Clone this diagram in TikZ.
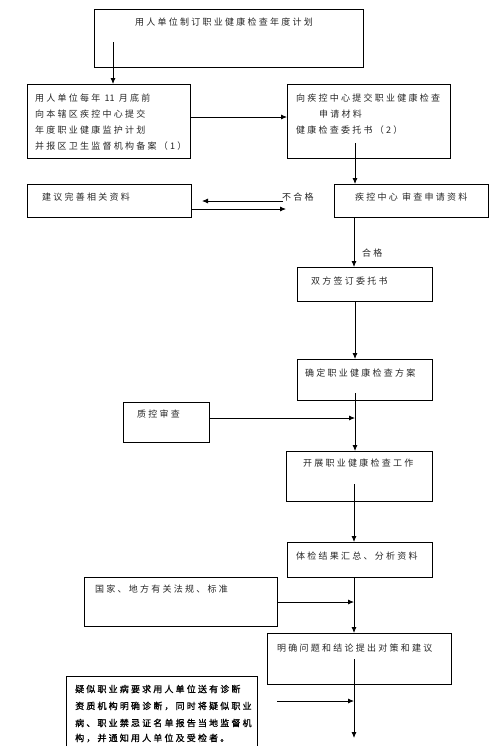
\documentclass[tikz,border=0pt]{standalone}
\usepackage{fontspec}
\usetikzlibrary{arrows.meta}
\newfontfamily\cjk[LetterSpace=25]{Noto Sans CJK SC}
\newfontfamily\cjkb[LetterSpace=24,FakeBold=1]{Noto Sans CJK SC}
\begin{document}
\begin{tikzpicture}[x=1pt,y=-1pt,
  box/.style={draw=black, line width=0.8pt, anchor=north west, inner sep=0pt},
  txt/.style={anchor=west, inner sep=0pt, font=\cjk\fontsize{9}{11}\selectfont, text=black!85},
  btxt/.style={txt, font=\cjkb\fontsize{9}{11}\selectfont, text=black},
  conn/.style={draw=black, line width=0.8pt},
  arr/.style={conn, -{Latex[length=6pt,width=5pt]}}]
\useasboundingbox (0,0) rectangle (490,755);
% boxes
\node[box, minimum width=269pt, minimum height=58pt] (b1) at (94,9) {};
\node[box, minimum width=163pt, minimum height=74pt] (b2) at (27,84) {};
\node[box, minimum width=163pt, minimum height=74pt] (b3) at (287,84) {};
\node[box, minimum width=164pt, minimum height=33pt] (b4) at (27,184) {};
\node[box, minimum width=154pt, minimum height=33pt] (b5) at (334,184) {};
\node[box, minimum width=135pt, minimum height=34pt] (b7) at (297,267) {};
\node[box, minimum width=135pt, minimum height=41pt] (b8) at (297,359) {};
\node[box, minimum width=86pt, minimum height=40pt] (b9) at (123,402) {};
\node[box, minimum width=146pt, minimum height=50pt] (b10) at (286,451) {};
\node[box, minimum width=145pt, minimum height=35pt] (b11) at (287,542) {};
\node[box, minimum width=193pt, minimum height=49pt] (b12) at (84,577) {};
\node[box, minimum width=184pt, minimum height=51pt] (b13) at (267,633) {};
\coordinate (b14bl) at (66,746);
\coordinate (b14tl) at (66,676);
\coordinate (b14tr) at (257,676);
\coordinate (b14br) at (257,746);
\draw[conn] (b14bl) -- (b14tl) -- (b14tr) -- (b14br);
% texts
\node[txt] (t1) at (135,22) {用人单位制订职业健康检查年度计划};
\node[txt] (t2a) at (35,98) {用人单位每年 {\addfontfeature{LetterSpace=0}11} 月底前};
\node[txt] (t2b) at (35,114) {向本辖区疾控中心提交};
\node[txt] (t2c) at (35,130) {年度职业健康监护计划};
\node[txt] (t2d) at (35,146) {并报区卫生监督机构备案（1）};
\node[txt] (t3a) at (296,98) {向疾控中心提交职业健康检查};
\node[txt] (t3b) at (319,114) {申请材料};
\node[txt] (t3c) at (296,130) {健康检查委托书（2）};
\node[txt] (t4) at (42,197) {建议完善相关资料};
\node[txt] (t5) at (355,197) {疾控中心 审查申请资料};
\node[txt] (lbad) at (282,197) {不合格};
\node[txt] (lok) at (362,253) {合格};
\node[txt] (t7) at (311,281) {双方签订委托书};
\node[txt] (t8) at (305,373) {确定职业健康检查方案};
\node[txt] (t9) at (137,414) {质控审查};
\node[txt] (t10) at (303,463) {开展职业健康检查工作};
\node[txt] (t11) at (296,556) {体检结果汇总、分析资料};
\node[txt] (t12) at (95,589) {国家、地方有关法规、标准};
\node[txt] (t13) at (277,648) {明确问题和结论提出对策和建议};
\node[btxt] (t14a) at (75,689) {疑似职业病要求用人单位送有诊断};
\node[btxt] (t14b) at (75,706) {资质机构明确诊断，同时将疑似职业};
\node[btxt] (t14c) at (75,723) {病、职业禁忌证名单报告当地监督机};
\node[btxt] (t14d) at (75,738) {构，并通知用人单位及受检者。};
% connectors
\coordinate (c1) at (113,42);
\draw[arr] (c1) -- (c1 |- b2.north);
\coordinate (c2) at (190,117);
\draw[arr] (c2) -- (c2 -| b3.west);
\coordinate (c3) at (355,143);
\draw[arr] (c3) -- (c3 |- b5.north);
\coordinate (c4a) at (283,201);
\coordinate (c4b) at (202,201);
\draw[arr] (c4a) -- (c4b);
\coordinate (c5a) at (191,209);
\coordinate (c5b) at (286,209);
\draw[arr] (c5a) -- (c5b);
\coordinate (c6) at (354,217);
\draw[arr] (c6) -- (c6 |- b7.north);
\coordinate (c7) at (355,301);
\draw[arr] (c7) -- (c7 |- b8.north);
\coordinate (c8) at (355,393);
\draw[arr] (c8) -- (c8 |- b10.north);
\coordinate (c9a) at (209,418);
\coordinate (c9b) at (355,418);
\draw[arr] (c9a) -- (c9b);
\coordinate (c10) at (354,484);
\draw[arr] (c10) -- (c10 |- b11.north);
\coordinate (c11) at (354,577);
\draw[arr] (c11) -- (c11 |- b13.north);
\coordinate (c12a) at (277,602);
\coordinate (c12b) at (354,602);
\draw[arr] (c12a) -- (c12b);
\coordinate (c13a) at (354,659);
\coordinate (c13b) at (354,738);
\draw[arr] (c13a) -- (c13b);
\coordinate (c14a) at (277,701);
\coordinate (c14b) at (354,701);
\draw[arr] (c14a) -- (c14b);
\end{tikzpicture}
\end{document}
